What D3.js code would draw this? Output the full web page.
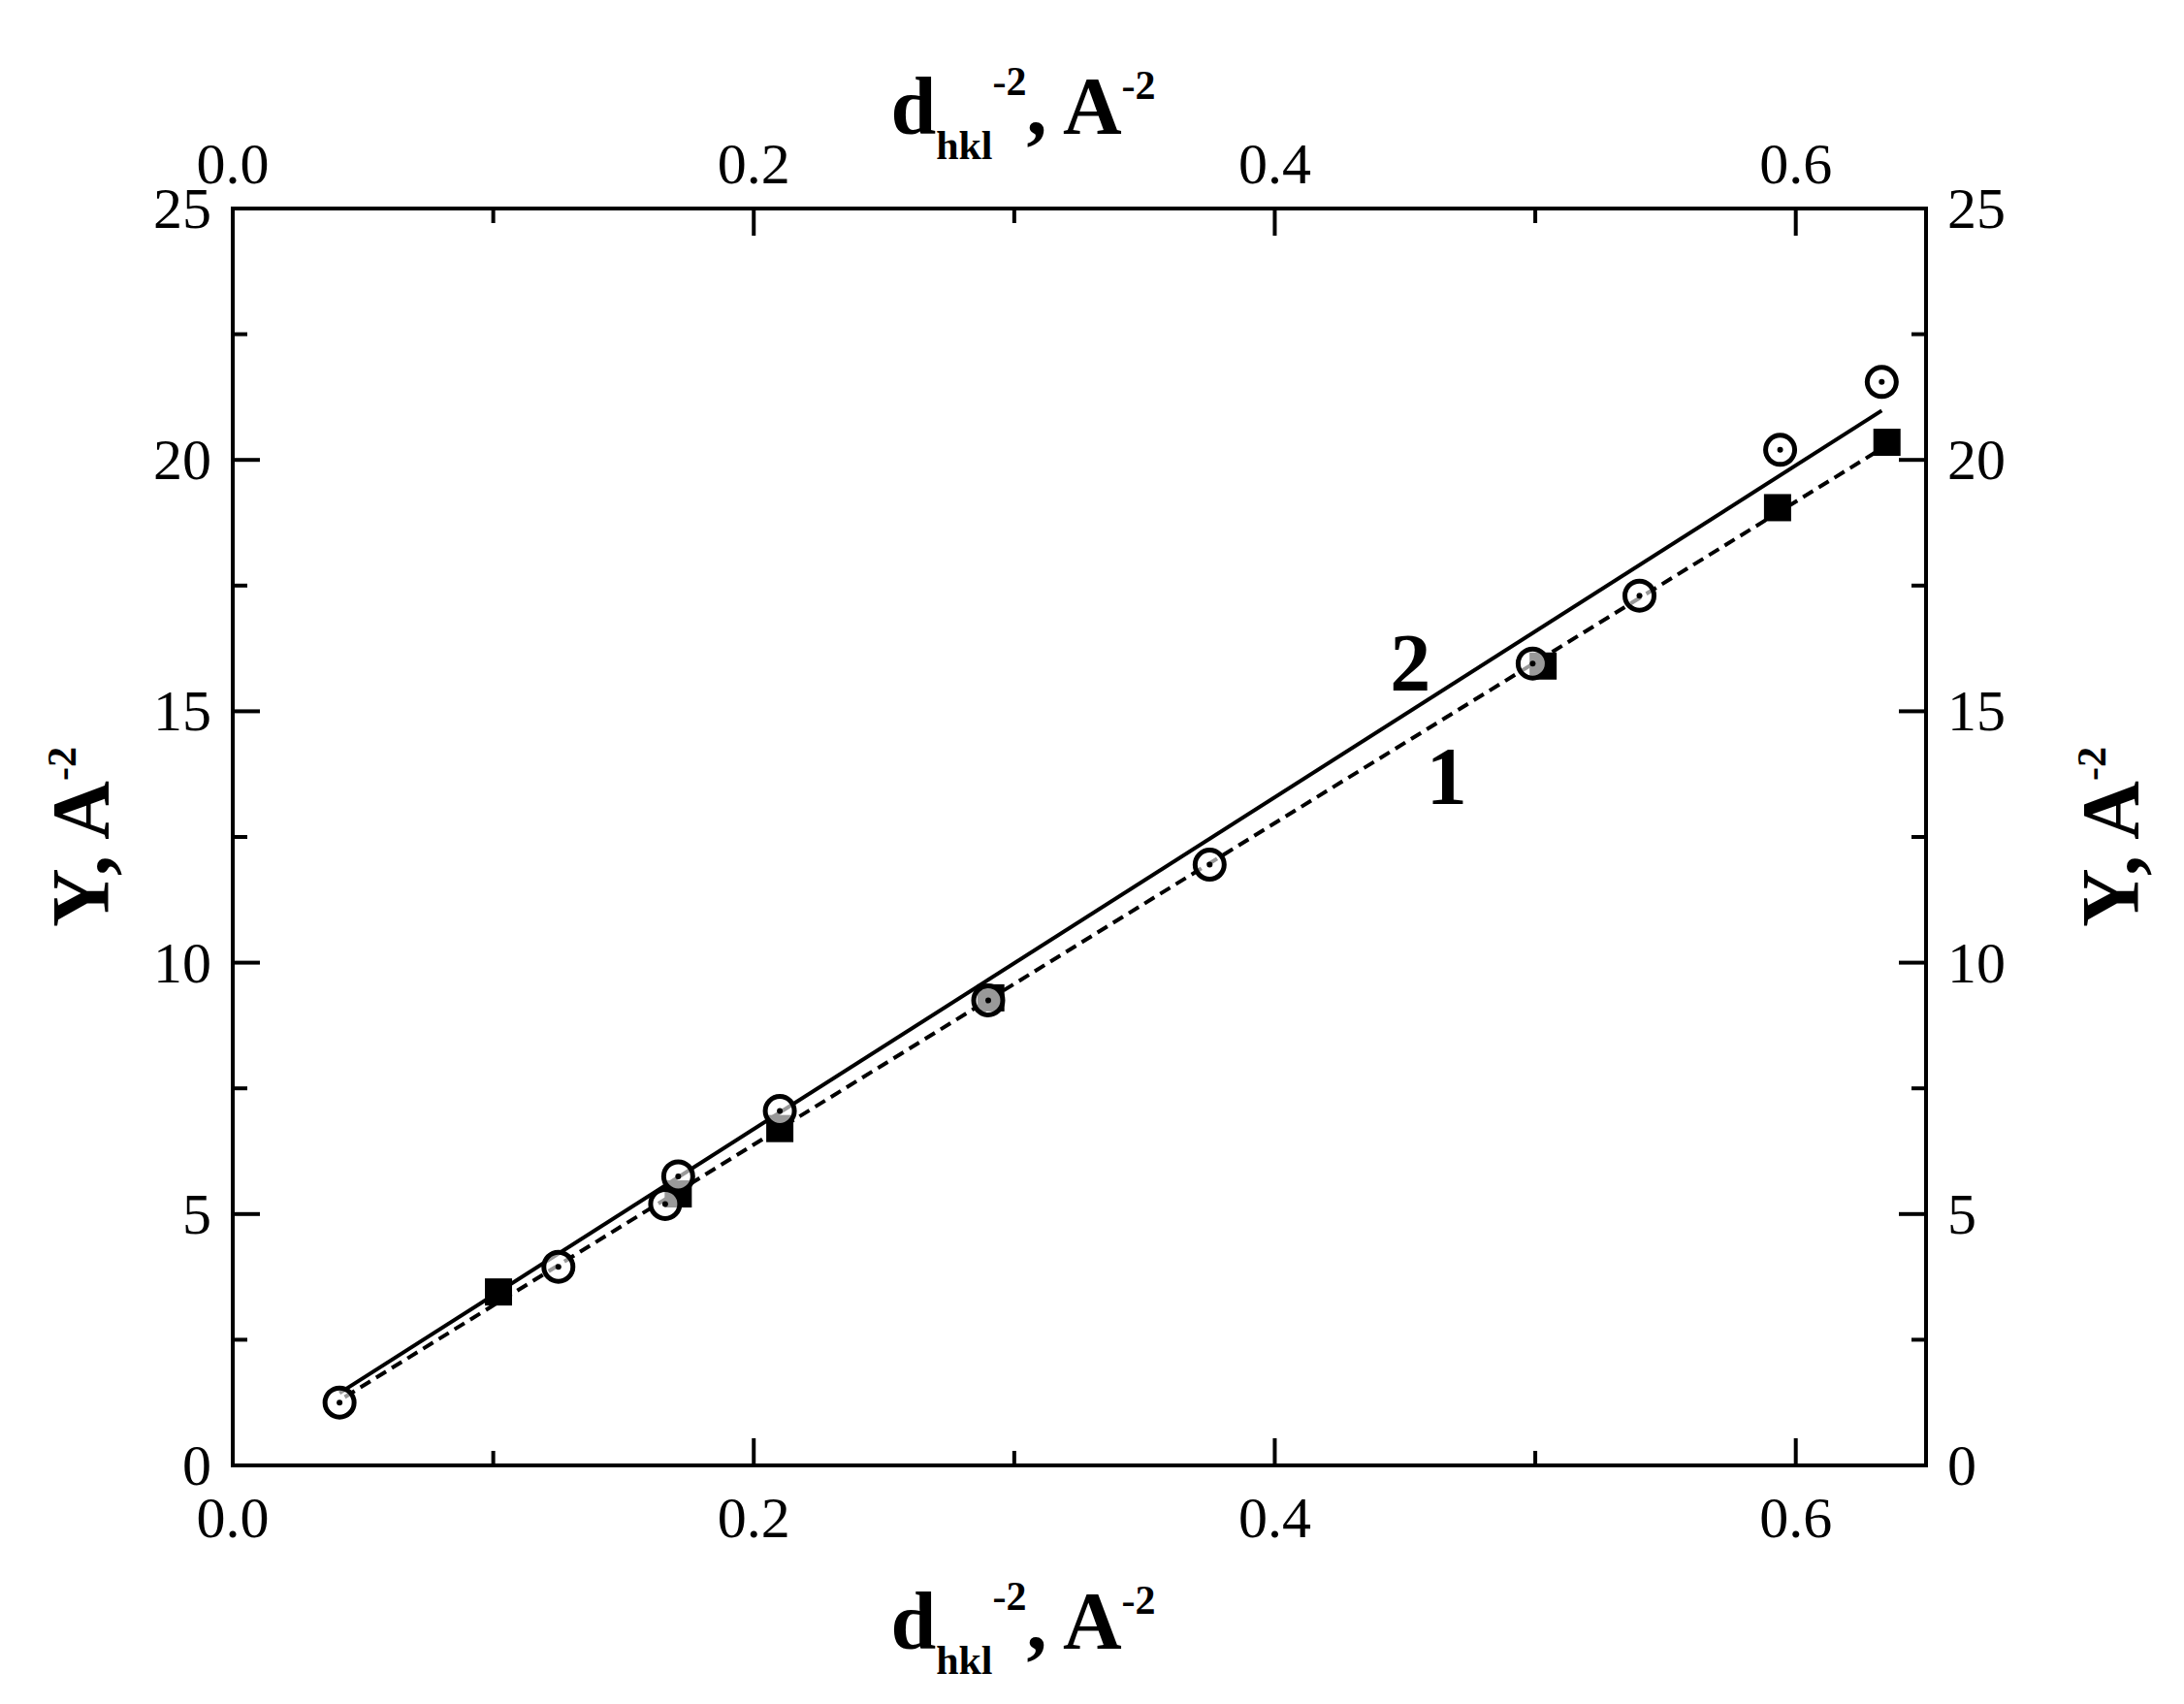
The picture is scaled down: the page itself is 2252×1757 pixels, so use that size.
<!DOCTYPE html>
<html><head><meta charset="utf-8">
<script src="https://cdn.jsdelivr.net/npm/d3@7"></script>
<style>body{margin:0;background:#fff}</style>
</head><body><svg></svg>
<script>
const circX = [0.041, 0.125, 0.166, 0.171, 0.21, 0.29, 0.375, 0.499, 0.54, 0.594, 0.633];
const circY = [1.25, 3.95, 5.2, 5.75, 7.05, 9.25, 11.95, 15.95, 17.3, 20.2, 21.55];
const sqX = [0.102, 0.171, 0.21, 0.291, 0.503, 0.593, 0.635];
const sqY = [3.45, 5.4, 6.7, 9.3, 15.9, 19.05, 20.35];
const line2X = [0.041, 0.633], line2Y = [1.44, 20.98];
const line1X = [0.043, 0.635], line1Y = [1.36, 20.29];
const xTicks = [0, 0.2, 0.4, 0.6], yTicks = [0, 5, 10, 15, 20, 25];

const W = 2252, H = 1757;
const L = 240, R = 1986, T = 215, B = 1511;
const svg = d3.select("svg").attr("width", W).attr("height", H);
const x = d3.scaleLinear().domain([0, 0.65]).range([L, R]);
const y = d3.scaleLinear().domain([0, 25]).range([B, T]);
const font = "'Liberation Serif', 'Times New Roman', serif";

// frame
svg.append("rect").attr("x", L).attr("y", T).attr("width", R - L).attr("height", B - T)
    .attr("fill", "none").attr("stroke", "#000").attr("stroke-width", 4);

// ticks (inward)
const xMinor = d3.range(0.1, 0.65, 0.2), yMinor = d3.range(2.5, 25, 5);
function ticks(vals, len) {
    vals.forEach(v => {
        [[B, -1], [T, 1]].forEach(([yy, s]) => svg.append("line")
            .attr("x1", x(v)).attr("x2", x(v)).attr("y1", yy).attr("y2", yy + s * len)
            .attr("stroke", "#000").attr("stroke-width", 4));
    });
}
ticks(xTicks, 28); ticks(xMinor, 15);
function yt(vals, len) {
    vals.forEach(v => {
        [[L, 1], [R, -1]].forEach(([xx, s]) => svg.append("line")
            .attr("y1", y(v)).attr("y2", y(v)).attr("x1", xx).attr("x2", xx + s * len)
            .attr("stroke", "#000").attr("stroke-width", 4));
    });
}
yt(yTicks, 28); yt(yMinor, 15);

const fmt = d3.format(".1f");
xTicks.forEach(v => {
    svg.append("text").attr("x", x(v)).attr("y", B + 74).attr("text-anchor", "middle")
        .attr("font-family", font).attr("font-size", 60).text(fmt(v));
    svg.append("text").attr("x", x(v)).attr("y", T - 26).attr("text-anchor", "middle")
        .attr("font-family", font).attr("font-size", 60).text(fmt(v));
});
yTicks.forEach(v => {
    svg.append("text").attr("x", L - 22).attr("y", y(v) + 20).attr("text-anchor", "end")
        .attr("font-family", font).attr("font-size", 60).text(v);
    svg.append("text").attr("x", R + 22).attr("y", y(v) + 20).attr("text-anchor", "start")
        .attr("font-family", font).attr("font-size", 60).text(v);
});

// axis titles
function dTitle(cy) {
    const t = svg.append("text").attr("x", 1055).attr("y", cy).attr("text-anchor", "middle")
        .attr("font-family", font).attr("font-size", 84).attr("font-weight", "bold");
    t.append("tspan").text("d");
    t.append("tspan").attr("font-size", 42).attr("dy", 26).text("hkl");
    t.append("tspan").attr("font-size", 42).attr("dy", -66).text("-2");
    t.append("tspan").attr("dy", 40).text(", A");
    t.append("tspan").attr("font-size", 42).attr("dy", -36).text("-2");
}
dTitle(1700); dTitle(138);
function yTitle(cx, rot) {
    const t = svg.append("text").attr("transform", `translate(${cx},${(T + B) / 2}) rotate(${rot})`)
        .attr("text-anchor", "middle").attr("font-family", font).attr("font-size", 84).attr("font-weight", "bold");
    t.append("tspan").text("Y, A");
    t.append("tspan").attr("font-size", 42).attr("dy", -34).text("-2");
}
yTitle(112, -90); yTitle(2205, -90);

// fit lines
const ln = d3.line().x(d => x(d[0])).y(d => y(d[1]));
svg.append("path").attr("d", ln(d3.zip(line1X, line1Y))).attr("fill", "none")
    .attr("stroke", "#000").attr("stroke-width", 4).attr("stroke-dasharray", "12,7");
svg.append("path").attr("d", ln(d3.zip(line2X, line2Y))).attr("fill", "none")
    .attr("stroke", "#000").attr("stroke-width", 4);

// squares
svg.selectAll(".sq").data(d3.zip(sqX, sqY)).enter().append("rect")
    .attr("x", d => x(d[0]) - 14).attr("y", d => y(d[1]) - 14)
    .attr("width", 28).attr("height", 28).attr("fill", "#000");
// circles
const cg = svg.selectAll(".c").data(d3.zip(circX, circY)).enter().append("g")
    .attr("transform", d => `translate(${x(d[0])},${y(d[1])})`);
cg.append("circle").attr("r", 15).attr("fill", "#fff").attr("fill-opacity", 0.6)
    .attr("stroke", "#000").attr("stroke-width", 5);
cg.append("circle").attr("r", 3).attr("fill", "#000");

// curve labels
svg.append("text").attr("x", x(0.452)).attr("y", y(15.96) + 28).attr("text-anchor", "middle")
    .attr("font-family", font).attr("font-size", 84).attr("font-weight", "bold").text("2");
svg.append("text").attr("x", x(0.466)).attr("y", y(13.7) + 28).attr("text-anchor", "middle")
    .attr("font-family", font).attr("font-size", 84).attr("font-weight", "bold").text("1");
</script></body></html>
